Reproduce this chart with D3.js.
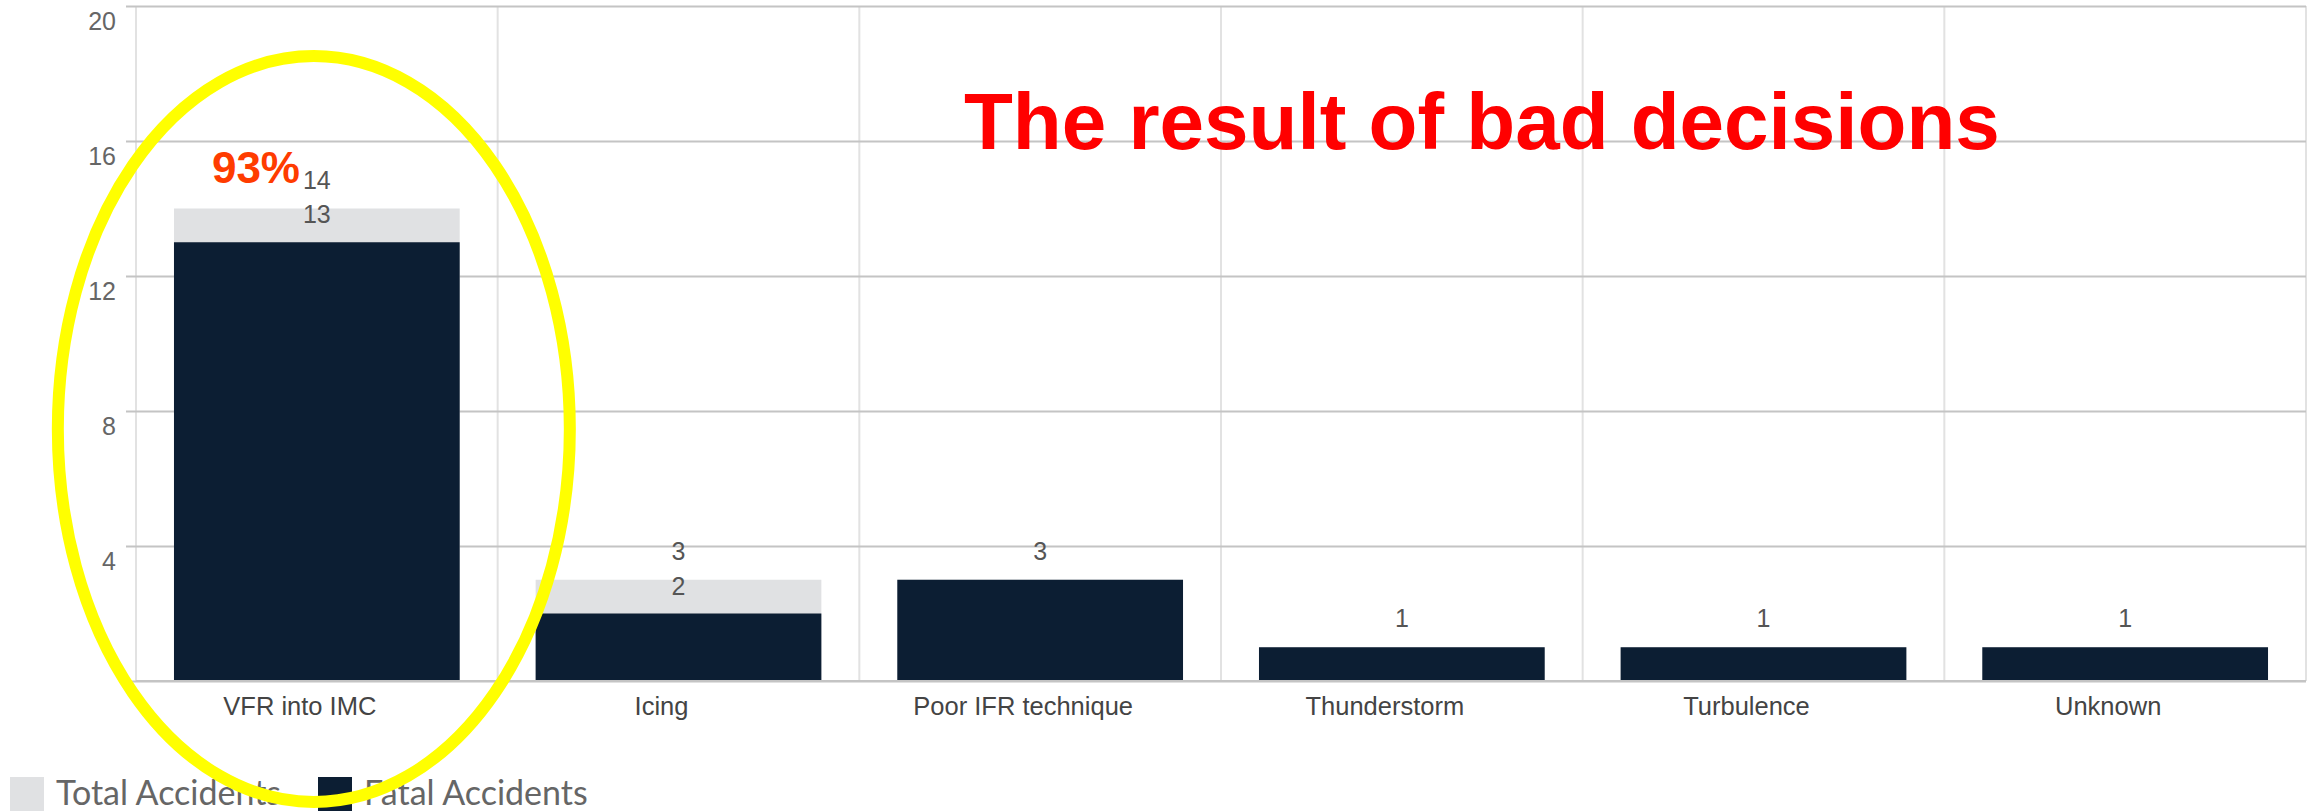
<!DOCTYPE html>
<html>
<head>
<meta charset="utf-8">
<script src="https://cdn.jsdelivr.net/npm/d3@7"></script>
<style>
  body { margin: 0; background: #fff; }
  svg { display: block; }
</style>
</head>
<body>
<div id="chart"></div>
<script>
// Data
const categories = ["VFR into IMC", "Icing", "Poor IFR technique", "Thunderstorm", "Turbulence", "Unknown"]
const totalAccidents = [14, 3, 3, 1, 1, 1]
const fatalAccidents = [13, 2, 3, 1, 1, 1]
const yTicks = [4, 8, 12, 16, 20]
const legendLabels = ["Total Accidents", "Fatal Accidents"]
const titleText = "The result of bad decisions"
const percentText = "93%"

// size
const W = 2318, H = 812
const plotLeft = 136, plotRight = 2306, plotTop = 6, plotBottom = 681

const svg = d3.select("#chart").append("svg")
    .attr("width", W)
    .attr("height", H)

// scales
var x = d3.scaleBand()
    .domain(categories)
    .range([plotLeft, plotRight])
    .paddingInner(0.21)
    .paddingOuter(0.105)

var y = d3.scaleLinear()
    .domain([0, 20])
    .range([plotBottom, plotTop])

// vertical grid (category boundaries)
const half = (x.step() - x.bandwidth()) / 2
const bounds = categories.map(c => x(c) - half).concat([plotRight])
svg.append("g").selectAll("line")
    .data(bounds)
    .join("line")
    .attr("x1", d => d).attr("x2", d => d)
    .attr("y1", plotTop).attr("y2", plotBottom)
    .attr("stroke", "#e2e2e2")
    .attr("stroke-width", 2)

// horizontal grid + y labels
const labelFont = "Liberation Sans, Arial, sans-serif"
const yAxis = d3.axisLeft(y)
    .tickValues([0].concat(yTicks))
    .tickFormat(d => d === 0 ? "" : d)
svg.append("g")
    .attr("transform", "translate(" + (plotLeft - 10) + ",0)")
    .call(yAxis)
    .call(g => g.select(".domain").remove())
    .call(g => g.selectAll(".tick line")
        .attr("x1", 0)
        .attr("x2", plotRight - plotLeft + 10)
        .attr("stroke", "#c4c4c4")
        .attr("stroke-width", 2))
    .call(g => g.selectAll(".tick text")
        .attr("x", -10)
        .attr("dy", "0.95em")
        .attr("fill", "#666")
        .attr("font-family", labelFont)
        .attr("font-size", 25))

// bars
const rows = categories.map((c, i) => ({cat: c, total: totalAccidents[i], fatal: fatalAccidents[i]}))

svg.append("g").selectAll("rect")
    .data(rows)
    .join("rect")
    .attr("x", d => x(d.cat))
    .attr("y", d => y(d.total))
    .attr("width", x.bandwidth())
    .attr("height", d => y(0) - y(d.total))
    .attr("fill", "#e0e1e3")

svg.append("g").selectAll("rect")
    .data(rows)
    .join("rect")
    .attr("x", d => x(d.cat))
    .attr("y", d => y(d.fatal))
    .attr("width", x.bandwidth())
    .attr("height", d => y(0) - y(d.fatal))
    .attr("fill", "#0c1e33")

// value labels
svg.append("g").selectAll("text")
    .data(rows)
    .join("text")
    .attr("x", d => x(d.cat) + x.bandwidth() / 2)
    .attr("y", d => y(d.total) - 20)
    .attr("text-anchor", "middle")
    .attr("font-family", labelFont)
    .attr("font-size", 25)
    .attr("fill", "#555")
    .text(d => d.total)

svg.append("g").selectAll("text")
    .data(rows.filter(d => d.fatal !== d.total))
    .join("text")
    .attr("x", d => x(d.cat) + x.bandwidth() / 2)
    .attr("y", d => y(d.fatal) - 19)
    .attr("text-anchor", "middle")
    .attr("font-family", labelFont)
    .attr("font-size", 25)
    .attr("fill", "#555")
    .text(d => d.fatal)

// category labels (sit a little left of bar centre in the original)
svg.append("g").selectAll("text")
    .data(categories)
    .join("text")
    .attr("x", d => x(d) + x.bandwidth() / 2 - 17)
    .attr("y", plotBottom + 34)
    .attr("text-anchor", "middle")
    .attr("font-family", labelFont)
    .attr("font-size", 25.5)
    .attr("fill", "#444")
    .text(d => d)

// baseline
svg.append("line")
    .attr("x1", plotLeft).attr("x2", plotRight)
    .attr("y1", plotBottom).attr("y2", plotBottom)
    .attr("stroke", "#c4c4c4")
    .attr("stroke-width", 2)

// legend
const legendColors = ["#e0e1e3", "#0c1e33"]
const legendX = [10, 318]
const lg = svg.append("g")
lg.selectAll("rect")
    .data(legendLabels)
    .join("rect")
    .attr("x", (d, i) => legendX[i])
    .attr("y", 777)
    .attr("width", 34)
    .attr("height", 34)
    .attr("fill", (d, i) => legendColors[i])
lg.selectAll("text")
    .data(legendLabels)
    .join("text")
    .attr("x", (d, i) => legendX[i] + 46)
    .attr("y", 805)
    .attr("font-family", "Lato, 'Open Sans', sans-serif")
    .attr("font-size", 34)
    .attr("fill", "#666")
    .text(d => d)

// annotations
svg.append("text")
    .attr("x", 964)
    .attr("y", 149)
    .attr("font-family", labelFont)
    .attr("font-weight", "bold")
    .attr("font-size", 80)
    .attr("fill", "#ff0000")
    .text(titleText)

svg.append("text")
    .attr("x", 300)
    .attr("y", 183)
    .attr("text-anchor", "end")
    .attr("font-family", labelFont)
    .attr("font-weight", "bold")
    .attr("font-size", 44)
    .attr("fill", "#ff3c00")
    .text(percentText)

// yellow ellipse around first category
svg.append("ellipse")
    .attr("cx", x(categories[0]) + x.bandwidth() / 2 - 3)
    .attr("cy", 429)
    .attr("rx", 256)
    .attr("ry", 373)
    .attr("fill", "none")
    .attr("stroke", "#ffff00")
    .attr("stroke-width", 12)
</script>
</body>
</html>
